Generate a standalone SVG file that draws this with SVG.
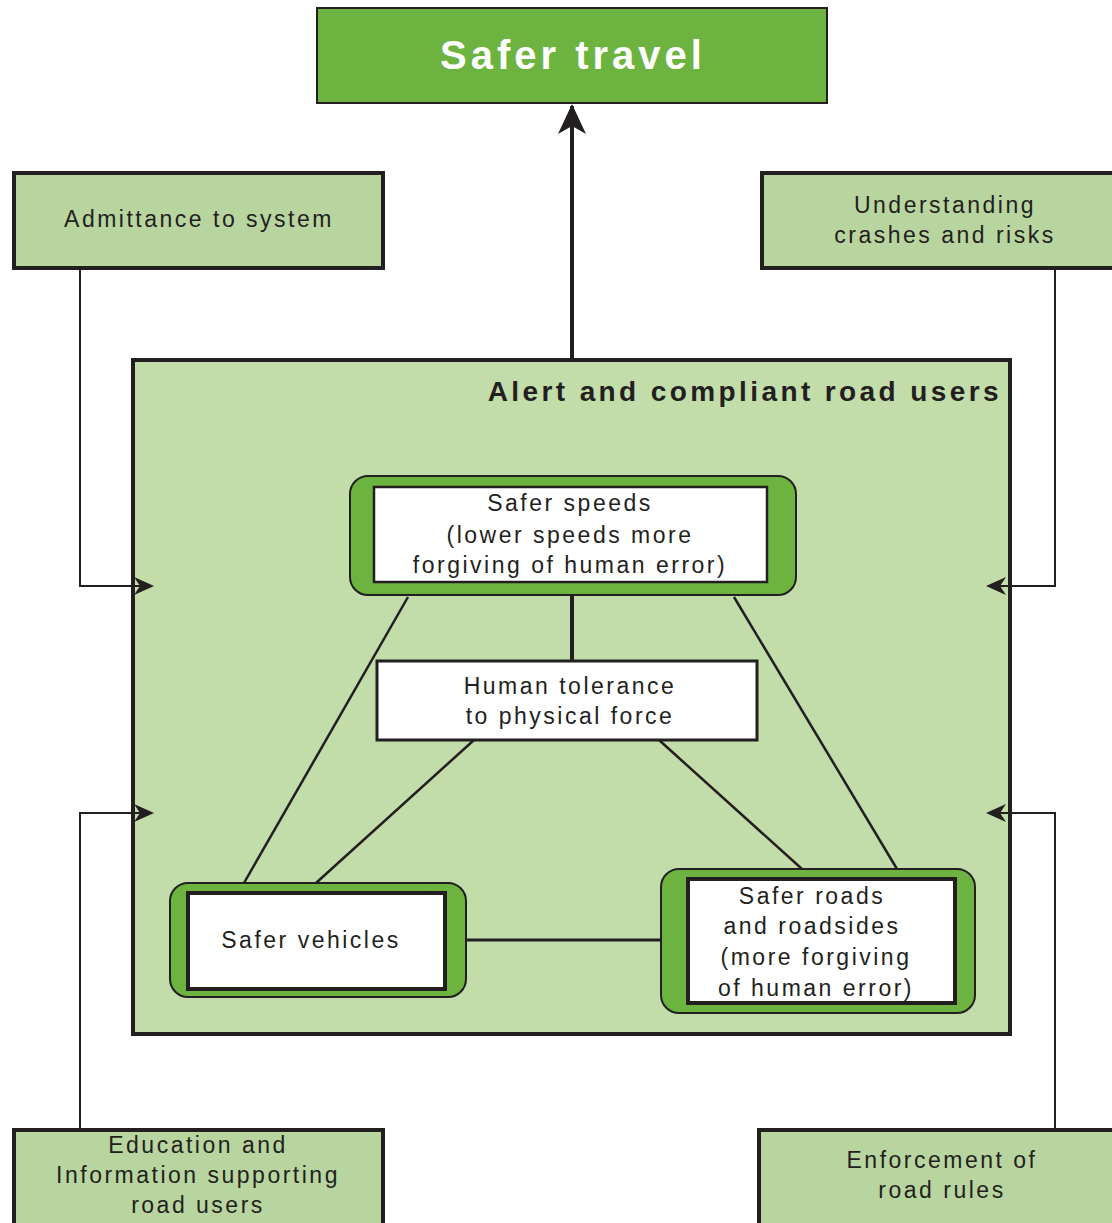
<svg xmlns="http://www.w3.org/2000/svg" width="1112" height="1223" viewBox="0 0 1112 1223">
<style>
.t{font-family:"Liberation Sans",Arial,sans-serif;font-size:23px;fill:#231f20;text-anchor:middle;letter-spacing:2.5px}
.lb{fill:#b9d59f;stroke:#231f20;stroke-width:4}
.dg{fill:#6db33f;stroke:#231f20;stroke-width:2}
.wb{fill:#fff;stroke:#231f20}
.c{stroke:#231f20;fill:none}
</style>
<defs>
<marker id="ah" viewBox="0 0 20 20" refX="18" refY="10" markerWidth="20" markerHeight="20" markerUnits="userSpaceOnUse" orient="auto">
<path d="M0,1 L20,10 L0,19 L6,10 Z" fill="#231f20"/>
</marker>
<marker id="ahb" viewBox="0 0 30 30" refX="28" refY="15" markerWidth="30" markerHeight="30" markerUnits="userSpaceOnUse" orient="auto">
<path d="M0,1 L30,15 L0,29 L8,15 Z" fill="#231f20"/>
</marker>
</defs>
<rect width="1112" height="1223" fill="#fff"/>

<g id="main">
<rect x="133" y="360" width="877" height="674" fill="#c2dcaa" stroke="#231f20" stroke-width="4"/>
<text x="1002" y="401" style="font-family:'Liberation Sans',Arial,sans-serif;font-size:28px;font-weight:bold;fill:#231f20;text-anchor:end;letter-spacing:3.4px">Alert and compliant road users</text>
</g>

<g id="connectors">
<line class="c" x1="572" y1="360" x2="572" y2="106" stroke-width="4" marker-end="url(#ahb)"/>
<polyline class="c" points="80,268 80,586 152,586" stroke-width="2" marker-end="url(#ah)"/>
<polyline class="c" points="1055,268 1055,586 988,586" stroke-width="2" marker-end="url(#ah)"/>
<polyline class="c" points="80,1130 80,813 152,813" stroke-width="2" marker-end="url(#ah)"/>
<polyline class="c" points="1055,1130 1055,813 988,813" stroke-width="2" marker-end="url(#ah)"/>
<line class="c" x1="572" y1="595" x2="572" y2="661" stroke-width="4"/>
<line class="c" x1="408" y1="597" x2="244" y2="883" stroke-width="2.5"/>
<line class="c" x1="474" y1="740" x2="316" y2="883" stroke-width="2.5"/>
<line class="c" x1="659" y1="740" x2="802" y2="869" stroke-width="2.5"/>
<line class="c" x1="734" y1="597" x2="897" y2="869" stroke-width="2.5"/>
<line class="c" x1="466" y1="940" x2="661" y2="940" stroke-width="3"/>
</g>

<g id="safer-travel">
<rect x="317" y="8" width="510" height="95" fill="#6db33f" stroke="#231f20" stroke-width="2"/>
<text x="573" y="69" style="font-family:'Liberation Sans',Arial,sans-serif;font-size:40px;font-weight:bold;fill:#fff;text-anchor:middle;letter-spacing:4px">Safer travel</text>
</g>

<g id="admittance">
<rect class="lb" x="14" y="173" width="369" height="95"/>
<text class="t" x="199" y="227">Admittance to system</text>
</g>

<g id="understanding">
<rect class="lb" x="762" y="173" width="354" height="95"/>
<text class="t" x="945" y="213">Understanding</text>
<text class="t" x="945" y="243">crashes and risks</text>
</g>

<g id="safer-speeds">
<rect class="dg" x="350" y="476" width="446" height="119" rx="18"/>
<rect class="wb" x="374" y="487" width="393" height="95" stroke-width="2.5"/>
<text class="t" x="570" y="511">Safer speeds</text>
<text class="t" x="570" y="543">(lower speeds more</text>
<text class="t" x="570" y="573">forgiving of human error)</text>
</g>

<g id="human-tolerance">
<rect class="wb" x="377" y="661" width="380" height="79" stroke-width="3"/>
<text class="t" x="570" y="694">Human tolerance</text>
<text class="t" x="570" y="724">to physical force</text>
</g>

<g id="safer-vehicles">
<rect class="dg" x="170" y="883" width="296" height="114" rx="18"/>
<rect class="wb" x="188" y="893" width="257" height="96" stroke-width="4"/>
<text class="t" x="311" y="948">Safer vehicles</text>
</g>

<g id="safer-roads">
<rect class="dg" x="661" y="869" width="314" height="144" rx="18"/>
<rect class="wb" x="688" y="879" width="267" height="124" stroke-width="4"/>
<text class="t" x="812" y="904">Safer roads</text>
<text class="t" x="812" y="934">and roadsides</text>
<text class="t" x="816" y="965">(more forgiving</text>
<text class="t" x="816" y="996">of human error)</text>
</g>

<g id="education">
<rect class="lb" x="14" y="1130" width="369" height="97"/>
<text class="t" x="198" y="1153">Education and</text>
<text class="t" x="198" y="1183">Information supporting</text>
<text class="t" x="198" y="1213">road users</text>
</g>

<g id="enforcement">
<rect class="lb" x="759" y="1130" width="357" height="97"/>
<text class="t" x="942" y="1168">Enforcement of</text>
<text class="t" x="942" y="1198">road rules</text>
</g>
</svg>
